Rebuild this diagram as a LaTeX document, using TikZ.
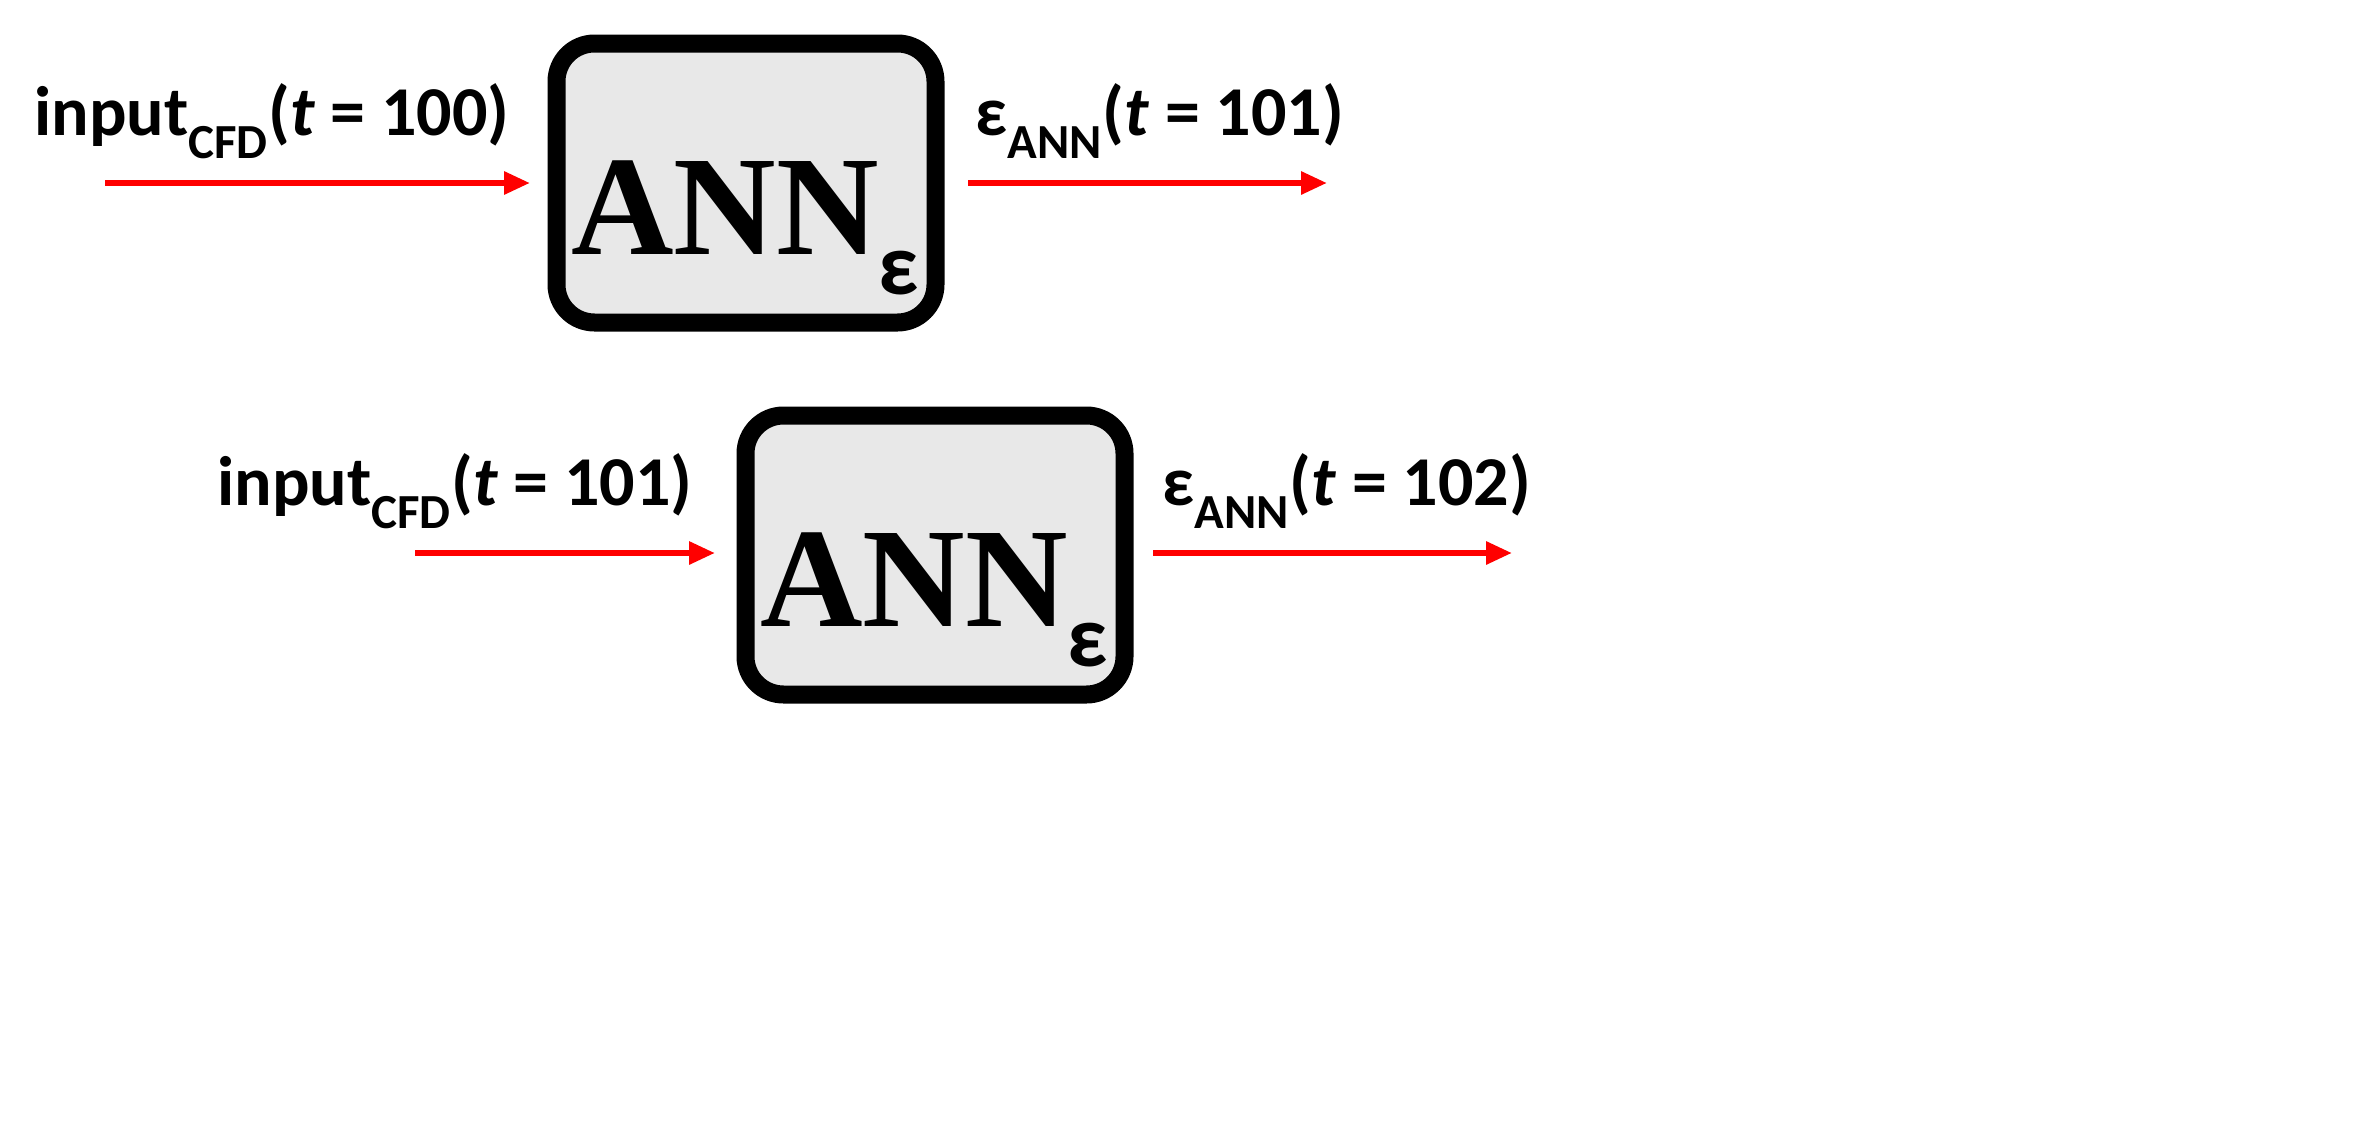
\documentclass[tikz,border=0pt]{standalone}
\usepackage{fontspec}
\setmainfont{Carlito}
\newfontfamily\annfont{Liberation Serif}
\usetikzlibrary{arrows.meta}
\begin{document}
\begin{tikzpicture}[x=1pt,y=-1pt,
  annbox/.style={draw=black,line width=18pt,fill=gray!18,rounded corners=38pt,minimum width=379pt,minimum height=279pt,inner sep=0pt},
  lbl/.style={font=\fontsize{70}{80}\selectfont\bfseries,anchor=base},
  redarrow/.style={draw=red,line width=6pt,-{Triangle[length=26pt,width=22pt]}},
  annlbl/.style={font=\annfont\fontsize{142}{150}\selectfont\bfseries}]
\useasboundingbox (0,0) rectangle (2369,1122);
\node[annbox] (b1) at (746,183) {};
\node[annbox] (b2) at (935,555) {};
\node[annlbl] (t1) at (745,228) {ANN\raisebox{-0.28em}{\fontspec{Carlito}\fontsize{88}{88}\selectfont ε}};
\node[annlbl] (t2) at (934,600) {ANN\raisebox{-0.28em}{\fontspec{Carlito}\fontsize{88}{88}\selectfont ε}};
\coordinate (a1s) at (105,183); \coordinate (a1e) at (530,183);
\coordinate (a2s) at (968,183); \coordinate (a2e) at (1327,183);
\coordinate (a3s) at (415,553); \coordinate (a3e) at (715,553);
\coordinate (a4s) at (1153,553); \coordinate (a4e) at (1512,553);
\draw[redarrow] (a1s) -- (a1e);
\draw[redarrow] (a2s) -- (a2e);
\draw[redarrow] (a3s) -- (a3e);
\draw[redarrow] (a4s) -- (a4e);
\node[lbl] (l1) at (272,135) {input\textsubscript{CFD}(\textit{t} = 100)};
\node[lbl] (l2) at (1160,135) {ε\textsubscript{ANN}(\textit{t} = 101)};
\node[lbl] (l3) at (455,505) {input\textsubscript{CFD}(\textit{t} = 101)};
\node[lbl] (l4) at (1347,505) {ε\textsubscript{ANN}(\textit{t} = 102)};
\end{tikzpicture}
\end{document}
